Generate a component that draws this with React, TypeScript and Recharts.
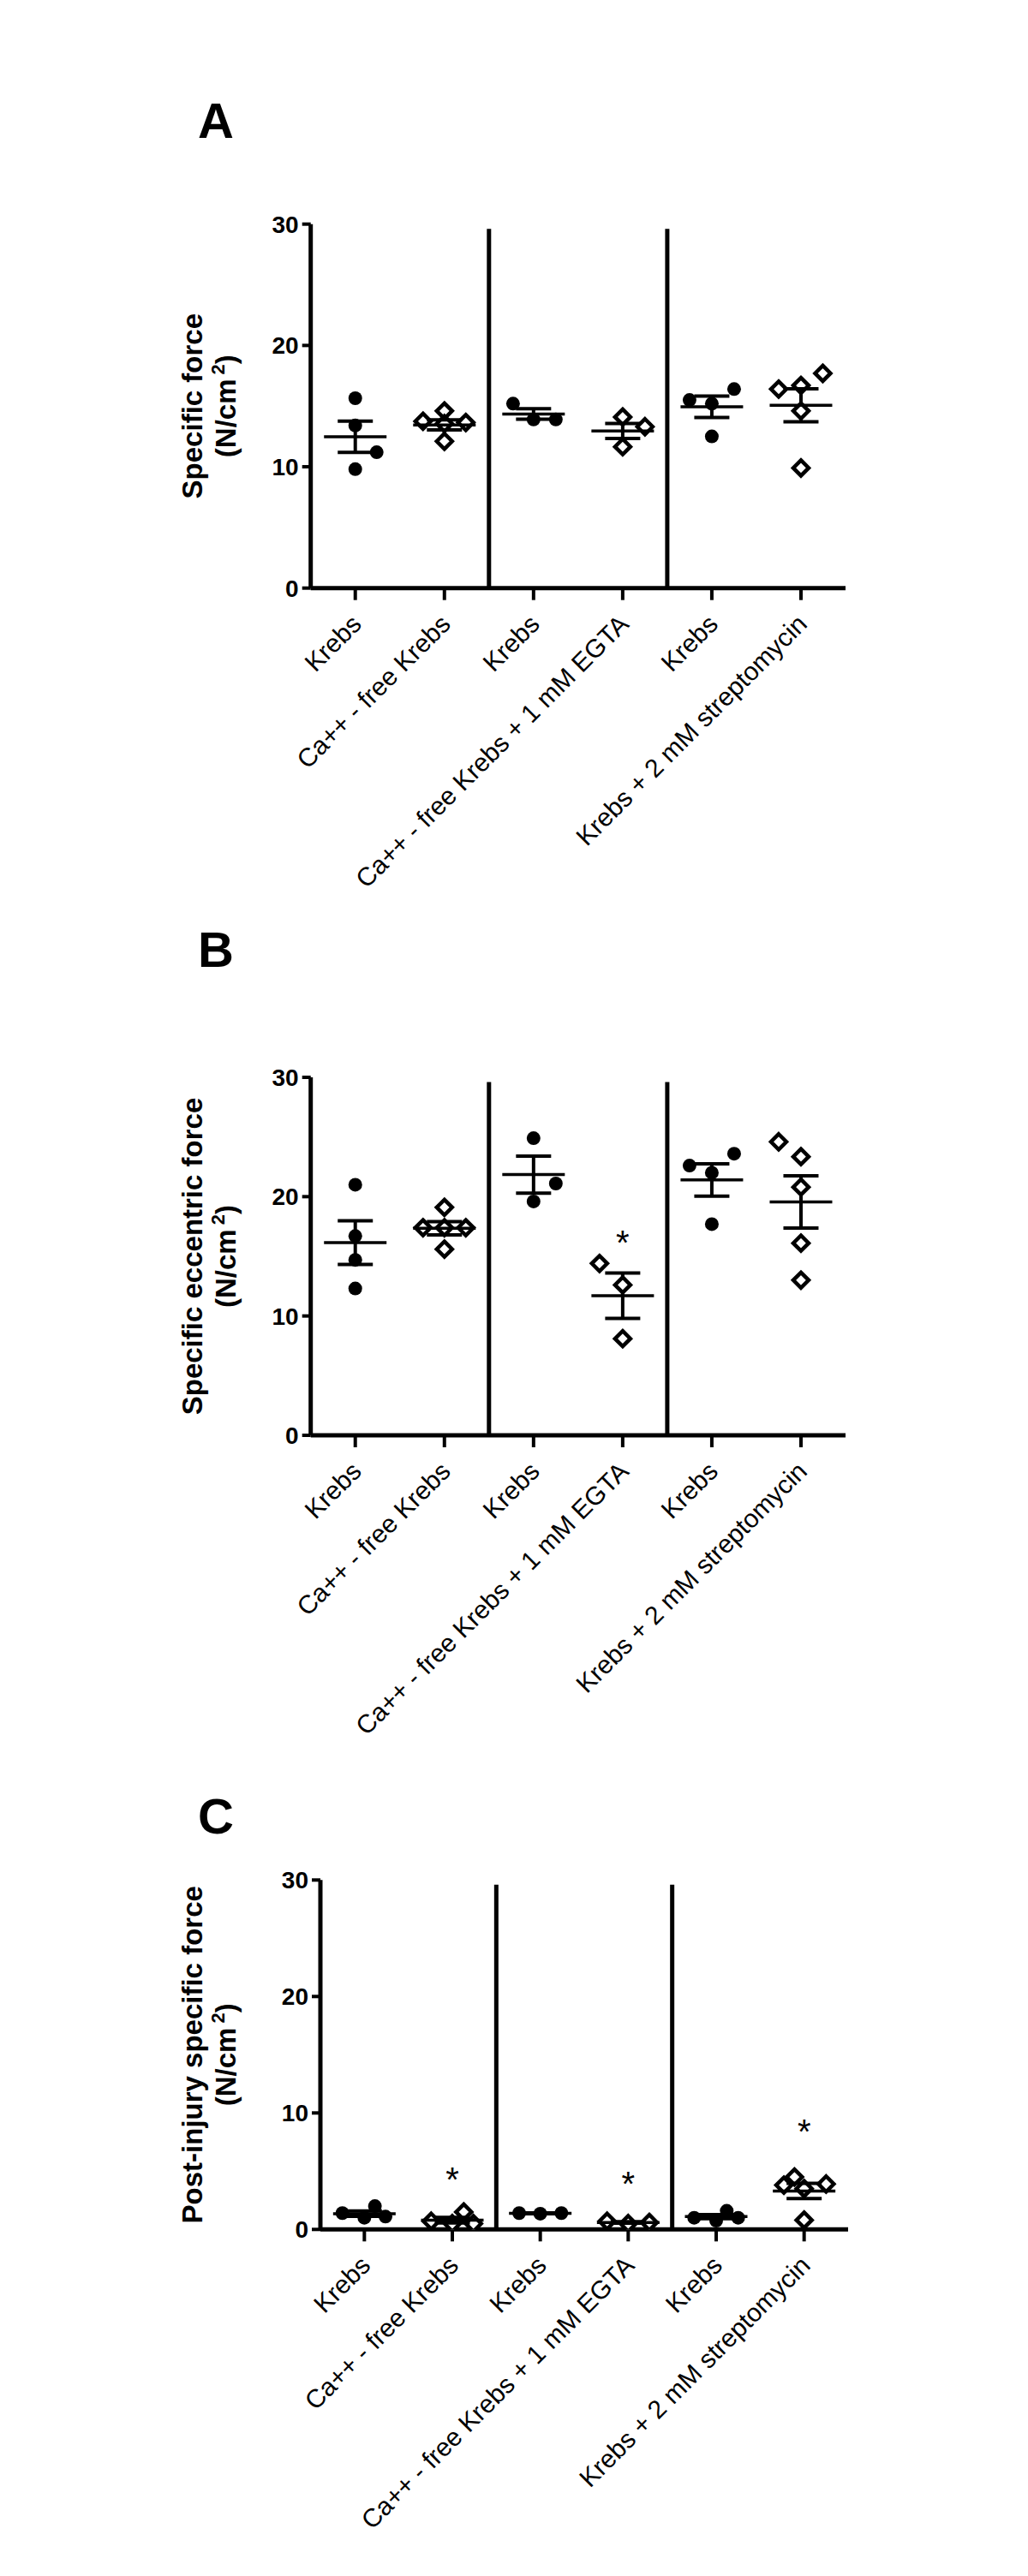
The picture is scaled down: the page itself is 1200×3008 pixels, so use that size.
import React from "react";
import { ScatterChart, Scatter, XAxis, YAxis, ReferenceLine, ErrorBar } from "recharts";

// ---------- data ----------
const categories = [
  "Krebs",
  "Ca++ - free Krebs",
  "Krebs",
  "Ca++ - free Krebs + 1 mM EGTA",
  "Krebs",
  "Krebs + 2 mM streptomycin",
];
const groupTicks = [0.5, 1.5, 2.5, 3.5, 4.5, 5.5];
const yTicks = [0, 10, 20, 30];
const separators = [2, 4];
const separatorTop = 29.6;

// Panel A: Specific force
const valuesA = [
  [15.65, 13.4, 11.2, 9.8],
  [14.6, 13.75, 13.55, 13.65, 12.1],
  [15.2, 13.9, 13.9],
  [14.1, 13.3, 11.65],
  [15.5, 16.4, 15.2, 12.5],
  [16.4, 16.7, 17.7, 14.6, 9.9],
];
const jitterA = [
  [0, 0, 0.24, 0],
  [0, -0.24, 0, 0.24, 0],
  [-0.23, 0, 0.25],
  [0, 0.25, 0],
  [-0.25, 0.25, 0, 0],
  [-0.25, 0, 0.245, 0, 0],
];
const meanA = [12.47, 13.45, 14.35, 12.95, 14.94, 15.06];
const semA = [1.29, 0.42, 0.43, 0.62, 0.88, 1.36];
const starsA: { group: number; y: number }[] = [];

// Panel B: Specific eccentric force
const valuesB = [
  [21.0, 16.7, 14.7, 12.3],
  [19.1, 17.4, 17.4, 17.4, 15.6],
  [24.9, 21.1, 19.6],
  [14.4, 12.6, 8.1],
  [22.6, 23.6, 22.0, 17.7],
  [24.6, 23.35, 20.8, 16.1, 13.0],
];
const jitterB = [
  [0, 0, 0, 0],
  [0, -0.24, 0, 0.24, 0],
  [0, 0.25, 0],
  [-0.26, 0, 0],
  [-0.25, 0.25, 0, 0],
  [-0.25, 0, 0, 0, 0],
];
const meanB = [16.15, 17.35, 21.85, 11.7, 21.4, 19.55];
const semB = [1.83, 0.55, 1.55, 1.9, 1.35, 2.19];
const starsB = [{ group: 3, y: 16.8 }];

// Panel C: Post-injury specific force
const valuesC = [
  [1.4, 1.0, 2.0, 1.1],
  [0.7, 0.5, 1.5, 0.5],
  [1.4, 1.35, 1.4],
  [0.7, 0.5, 0.6],
  [1.0, 0.75, 1.6, 1.0],
  [3.8, 4.5, 3.9, 3.5, 0.8],
];
const jitterC = [
  [-0.25, 0, 0.12, 0.24],
  [-0.24, 0, 0.13, 0.24],
  [-0.24, 0, 0.24],
  [-0.24, 0, 0.24],
  [-0.25, 0, 0.12, 0.25],
  [-0.23, -0.11, 0.25, 0, 0],
];
const meanC = [1.35, 0.8, 1.38, 0.6, 1.1, 3.3];
const semC = [0.23, 0.24, 0.03, 0.06, 0.18, 0.65];
const starsC = [
  { group: 1, y: 4.95 },
  { group: 3, y: 4.55 },
  { group: 5, y: 9.05 },
];

// ---------- helpers ----------
const FONT = "Arial, 'Liberation Sans', Helvetica, sans-serif";

type Pt = { x: number; y: number; sem?: number };

function points(values: number[][], jitter: number[][], groups: number[]): Pt[] {
  const out: Pt[] = [];
  groups.forEach((g) => {
    values[g].forEach((v, i) => out.push({ x: g + 0.5 + jitter[g][i], y: v }));
  });
  return out;
}
function means(mean: number[], sem: number[]): Pt[] {
  return mean.map((m, g) => ({ x: g + 0.5, y: m, sem: sem[g] }));
}
function caps(mean: number[], sem: number[], dir: number): Pt[] {
  return mean.map((m, g) => ({ x: g + 0.5, y: m + dir * sem[g] }));
}

const CircleShape = (p: any) => <circle cx={p.cx} cy={p.cy} r={8} fill="#000" />;
const DiamondShape = (p: any) => {
  const d = 9;
  return (
    <path
      d={`M${p.cx},${p.cy - d}L${p.cx + d},${p.cy}L${p.cx},${p.cy + d}L${p.cx - d},${p.cy}Z`}
      fill="#fff"
      stroke="#000"
      strokeWidth={4.5}
    />
  );
};
const MeanShape = (p: any) => (
  <line x1={p.cx - 36.5} x2={p.cx + 36.5} y1={p.cy} y2={p.cy} stroke="#000" strokeWidth={3.5} />
);
const CapShape = (p: any) => (
  <line x1={p.cx - 20.5} x2={p.cx + 20.5} y1={p.cy} y2={p.cy} stroke="#000" strokeWidth={4} />
);
const StarShape = (p: any) => (
  <text x={p.cx} y={p.cy + 23} textAnchor="middle" fontSize={40} fontFamily={FONT} fill="#000">
    *
  </text>
);

const XTick = (props: any) => {
  const { x, y, payload } = props;
  const label = categories[Math.round(payload.value - 0.5)];
  return (
    <text
      transform={`translate(${x - 6},${y + 15}) rotate(-45)`}
      textAnchor="end"
      dy={21}
      fontSize={30}
      fontFamily={FONT}
      fill="#000"
    >
      {label}
    </text>
  );
};

type PanelProps = {
  letter: string;
  letterY: number;
  title: string;
  top: number;
  height: number;
  marginTop: number;
  plotH: number;
  yAxisW: number;
  marginRight: number;
  values: number[][];
  jitter: number[][];
  mean: number[];
  sem: number[];
  stars: { group: number; y: number }[];
};

const WIDTH = 1184;

function Panel(props: PanelProps) {
  const {
    letter, letterY, title, top, height, marginTop, plotH, yAxisW, marginRight,
    values, jitter, mean, sem, stars,
  } = props;
  const xAxisH = height - marginTop - plotH;
  const midY = marginTop + plotH / 2;
  const circles = points(values, jitter, [0, 2, 4]);
  const diamonds = points(values, jitter, [1, 3, 5]);
  const meanPts = means(mean, sem);
  const upper = caps(mean, sem, 1);
  const lower = caps(mean, sem, -1);
  const starPts = stars.map((s) => ({ x: s.group + 0.5, y: s.y }));

  const renderTitle = () => (
    <g>
      <text x={223} y={letterY} fontSize={58} fontWeight="bold" fontFamily={FONT} fill="#000">
        {letter}
      </text>
      <text
        transform={`translate(228,${midY}) rotate(-90)`}
        textAnchor="middle"
        fontSize={33}
        fontWeight="bold"
        fontFamily={FONT}
        fill="#000"
      >
        {title}
      </text>
      <text
        transform={`translate(267,${midY}) rotate(-90)`}
        textAnchor="middle"
        fontSize={33}
        fontWeight="bold"
        fontFamily={FONT}
        fill="#000"
      >
        (N/cm
        <tspan dx={5} dy={-13} fontSize={22}>2</tspan>
        <tspan dy={13}>)</tspan>
      </text>
    </g>
  );

  return (
    <div style={{ position: "absolute", left: 0, top }}>
      <ScatterChart
        width={WIDTH}
        height={height}
        margin={{ top: marginTop, right: marginRight, bottom: 0, left: 0 }}
      >
        <XAxis
          type="number"
          dataKey="x"
          domain={[0, 6]}
          ticks={groupTicks}
          interval={0}
          height={xAxisH}
          tick={(p: any) => <XTick {...p} />}
          tickSize={14}
          tickMargin={0}
          tickLine={{ stroke: "#000", strokeWidth: 4 }}
          axisLine={{ stroke: "#000", strokeWidth: 5 }}
          allowDataOverflow
        />
        <YAxis
          type="number"
          dataKey="y"
          domain={[0, 30]}
          ticks={yTicks}
          interval={0}
          width={yAxisW}
          tickSize={10}
          tickMargin={4}
          tick={{ fill: "#000", fontSize: 28, fontWeight: "bold", fontFamily: FONT }}
          tickLine={{ stroke: "#000", strokeWidth: 4 }}
          axisLine={{ stroke: "#000", strokeWidth: 5 }}
          allowDataOverflow
          label={{ content: renderTitle }}
        />
        {separators.map((s) => (
          <ReferenceLine
            key={s}
            segment={[
              { x: s, y: 0 },
              { x: s, y: separatorTop },
            ]}
            stroke="#000"
            strokeWidth={5}
          />
        ))}
        <Scatter data={circles} shape={CircleShape} isAnimationActive={false} />
        <Scatter data={diamonds} shape={DiamondShape} isAnimationActive={false} />
        <Scatter data={meanPts} shape={MeanShape} isAnimationActive={false}>
          <ErrorBar
            dataKey="sem"
            direction="y"
            width={0}
            stroke="#000"
            strokeWidth={4}
            isAnimationActive={false}
          />
        </Scatter>
        <Scatter data={upper} shape={CapShape} isAnimationActive={false} />
        <Scatter data={lower} shape={CapShape} isAnimationActive={false} />
        <Scatter data={starPts} shape={StarShape} isAnimationActive={false} />
      </ScatterChart>
    </div>
  );
}

export default function App() {
  return (
    <div style={{ position: "relative", width: WIDTH, height: 2992, background: "#fff" }}>
      <Panel
        letter="A"
        letterY={101}
        title="Specific force"
        top={52}
        height={1010}
        marginTop={201.7}
        plotH={425}
        yAxisW={354.7}
        marginRight={205}
        values={valuesA}
        jitter={jitterA}
        mean={meanA}
        sem={semA}
        stars={starsA}
      />
      <Panel
        letter="B"
        letterY={59}
        title="Specific eccentric force"
        top={1062}
        height={1010}
        marginTop={188}
        plotH={418}
        yAxisW={354.7}
        marginRight={205}
        values={valuesB}
        jitter={jitterB}
        mean={meanB}
        sem={semB}
        stars={starsB}
      />
      <Panel
        letter="C"
        letterY={61}
        title="Post-injury specific force"
        top={2072}
        height={920}
        marginTop={115.3}
        plotH={408}
        yAxisW={366}
        marginRight={202}
        values={valuesC}
        jitter={jitterC}
        mean={meanC}
        sem={semC}
        stars={starsC}
      />
    </div>
  );
}
